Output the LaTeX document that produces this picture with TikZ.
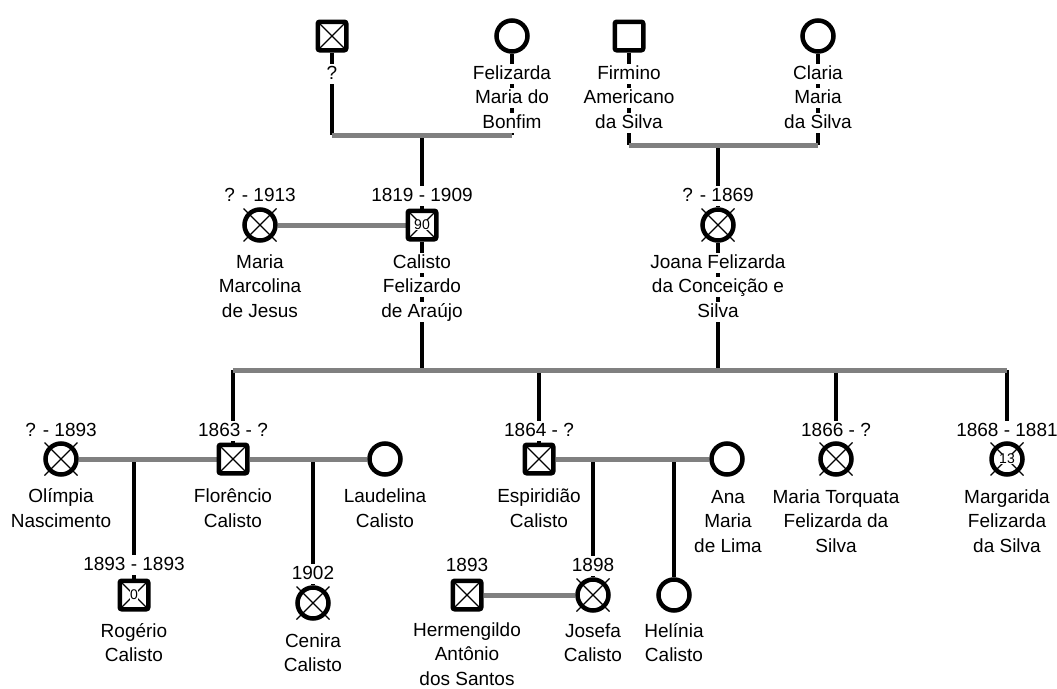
\documentclass[tikz,border=0pt]{standalone}
\usepackage{fontspec}
\setmainfont{Liberation Sans}
\usetikzlibrary{calc,backgrounds}
\definecolor{gry}{RGB}{128,128,128}
\setlength{\fboxsep}{0pt}
\newcommand\wb[1]{\colorbox{white}{\rule[-4.5pt]{0pt}{20pt}#1}}
\newcommand\lbfont{\fontsize{19}{24.5}\selectfont}
\newcommand\numfont{\fontsize{14}{14}\selectfont}
\tikzset{
 male/.style={draw, line width=4.5pt, rounded corners=2pt, minimum size=28.5pt, fill=white, inner sep=0pt},
 female/.style={circle, draw, line width=4.5pt, minimum size=31pt, fill=white, inner sep=0pt},
 lbl/.style={inner sep=0pt, align=center, font=\lbfont},
 desc/.style={line width=4.5pt, black},
 union/.style={line width=5pt, gry},
 xmark/.style={line width=1.2pt},
 num/.style={fill=white, inner sep=0.5pt, font=\numfont},
}
\newcommand\sqx[1]{\draw[xmark] ([shift={(-12,-12)}]#1.center) -- ([shift={(12,12)}]#1.center) ([shift={(-12,12)}]#1.center) -- ([shift={(12,-12)}]#1.center);}
\newcommand\cix[1]{\draw[xmark] ([shift={(-16.5,-16.5)}]#1.center) -- ([shift={(16.5,16.5)}]#1.center) ([shift={(-16.5,16.5)}]#1.center) -- ([shift={(16.5,-16.5)}]#1.center);}
\begin{document}
\begin{tikzpicture}[x=1pt,y=-1pt]
\useasboundingbox (0,0) rectangle (1057,688);
% generation 1
\node[male] (q) at (332,36) {};
\node[female] (fmb) at (512,36) {};
\node[male] (fas) at (629,36) {};
\node[female] (cms) at (818,36) {};
% generation 2
\node[female] (mmj) at (260,225) {};
\node[male] (cfa) at (422,225) {};
\node[female] (jfc) at (718,225) {};
% generation 3
\node[female] (on) at (61,459) {};
\node[male] (fc) at (233,459) {};
\node[female] (lc) at (385,459) {};
\node[male] (ec) at (539,459) {};
\node[female] (aml) at (727,459) {};
\node[female] (mtf) at (836,459) {};
\node[female] (mfs) at (1007,459) {};
% generation 4
\node[male] (rc) at (134,595) {};
\node[female] (cc) at (313,603) {};
\node[male] (has) at (467,595) {};
\node[female] (jc) at (593,595) {};
\node[female] (hc) at (674,595) {};
% union points
\coordinate (u1) at (422,135);
\coordinate (u2) at (718,145);
\coordinate (u3) at (422,370);
\coordinate (u4) at (134,459);
\coordinate (u5) at (313,459);
\coordinate (u6) at (593,459);
\coordinate (u7) at (674,459);
\begin{scope}[on background layer]
 \draw[desc] (q) -- (q |- u1);
 \draw[desc] (fmb) -- (fmb |- u1);
 \draw[desc] (u1) -- (cfa);
 \draw[desc] (fas) -- (fas |- u2);
 \draw[desc] (cms) -- (cms |- u2);
 \draw[desc] (u2) -- (jfc);
 \draw[desc] (cfa) -- (cfa |- u3);
 \draw[desc] (jfc) -- (jfc |- u3);
 \draw[desc] (fc |- u3) -- (fc);
 \draw[desc] (ec |- u3) -- (ec);
 \draw[desc] (mtf |- u3) -- (mtf);
 \draw[desc] (mfs |- u3) -- (mfs);
 \draw[desc] (u4) -- (rc);
 \draw[desc] (u5) -- (cc);
 \draw[desc] (u6) -- (jc);
 \draw[desc] (u7) -- (hc);
 \draw[union] (q |- u1) -- (fmb |- u1);
 \draw[union] (fas |- u2) -- (cms |- u2);
 \draw[union] (mmj) -- (cfa);
 \draw[union] (fc |- u3) -- (mfs |- u3);
 \draw[union] (on) -- (fc);
 \draw[union] (fc) -- (lc);
 \draw[union] (ec) -- (aml);
 \draw[union] (has) -- (jc);
\end{scope}
% deceased marks
\sqx{q} \sqx{cfa} \sqx{fc} \sqx{ec} \sqx{rc} \sqx{has}
\cix{mmj} \cix{jfc} \cix{on} \cix{mtf} \cix{mfs} \cix{cc} \cix{jc}
\node[num] (n90) at (cfa) {90};
\node[num] (n0) at (rc) {0};
\node[num] (n13) at (mfs) {13};
% labels generation 1
\node[lbl] (lq) at (332,73.5) {\wb{?}};
\node[lbl] (lfmb) at (512,98) {\wb{Felizarda}\\\wb{Maria do}\\\wb{Bonfim}};
\node[lbl] (lfas) at (629,98) {\wb{Firmino}\\\wb{Americano}\\\wb{da Silva}};
\node[lbl] (lcms) at (818,98) {\wb{Claria}\\\wb{Maria}\\\wb{da Silva}};
% generation 2
\node[lbl] (ymmj) at (260,196) {\wb{? - 1913}};
\node[lbl] (ycfa) at (422,196) {\wb{1819 - 1909}};
\node[lbl] (yjfc) at (718,196) {\wb{? - 1869}};
\node[lbl] (lmmj) at (260,287) {\wb{Maria}\\\wb{Marcolina}\\\wb{de Jesus}};
\node[lbl] (lcfa) at (422,287) {\wb{Calisto}\\\wb{Felizardo}\\\wb{de Araújo}};
\node[lbl] (ljfc) at (718,287) {\wb{Joana Felizarda}\\\wb{da Conceição e}\\\wb{Silva}};
% generation 3
\node[lbl] (yon) at (61,431) {\wb{? - 1893}};
\node[lbl] (yfc) at (233,431) {\wb{1863 - ?}};
\node[lbl] (yec) at (539,431) {\wb{1864 - ?}};
\node[lbl] (ymtf) at (836,431) {\wb{1866 - ?}};
\node[lbl] (ymfs) at (1007,431) {\wb{1868 - 1881}};
\node[lbl] (lon) at (61,509.5) {\wb{Olímpia}\\\wb{Nascimento}};
\node[lbl] (lfc) at (233,509.5) {\wb{Florêncio}\\\wb{Calisto}};
\node[lbl] (llc) at (385,509.5) {\wb{Laudelina}\\\wb{Calisto}};
\node[lbl] (lec) at (539,509.5) {\wb{Espiridião}\\\wb{Calisto}};
\node[lbl] (laml) at (728,522) {\wb{Ana}\\\wb{Maria}\\\wb{de Lima}};
\node[lbl] (lmtf) at (836,522) {\wb{Maria Torquata}\\\wb{Felizarda da}\\\wb{Silva}};
\node[lbl] (lmfs) at (1007,522) {\wb{Margarida}\\\wb{Felizarda}\\\wb{da Silva}};
% generation 4
\node[lbl] (yrc) at (134,565) {\wb{1893 - 1893}};
\node[lbl] (ycc) at (313,574) {\wb{1902}};
\node[lbl] (yhas) at (467,566) {\wb{1893}};
\node[lbl] (yjc) at (593,566) {\wb{1898}};
\node[lbl] (lrc) at (134,644) {\wb{Rogério}\\\wb{Calisto}};
\node[lbl] (lcc) at (313,654) {\wb{Cenira}\\\wb{Calisto}};
\node[lbl] (lhas) at (467,655) {\wb{Hermengildo}\\\wb{Antônio}\\\wb{dos Santos}};
\node[lbl] (ljc) at (593,644) {\wb{Josefa}\\\wb{Calisto}};
\node[lbl] (lhc) at (674,644) {\wb{Helínia}\\\wb{Calisto}};
\end{tikzpicture}
\end{document}
